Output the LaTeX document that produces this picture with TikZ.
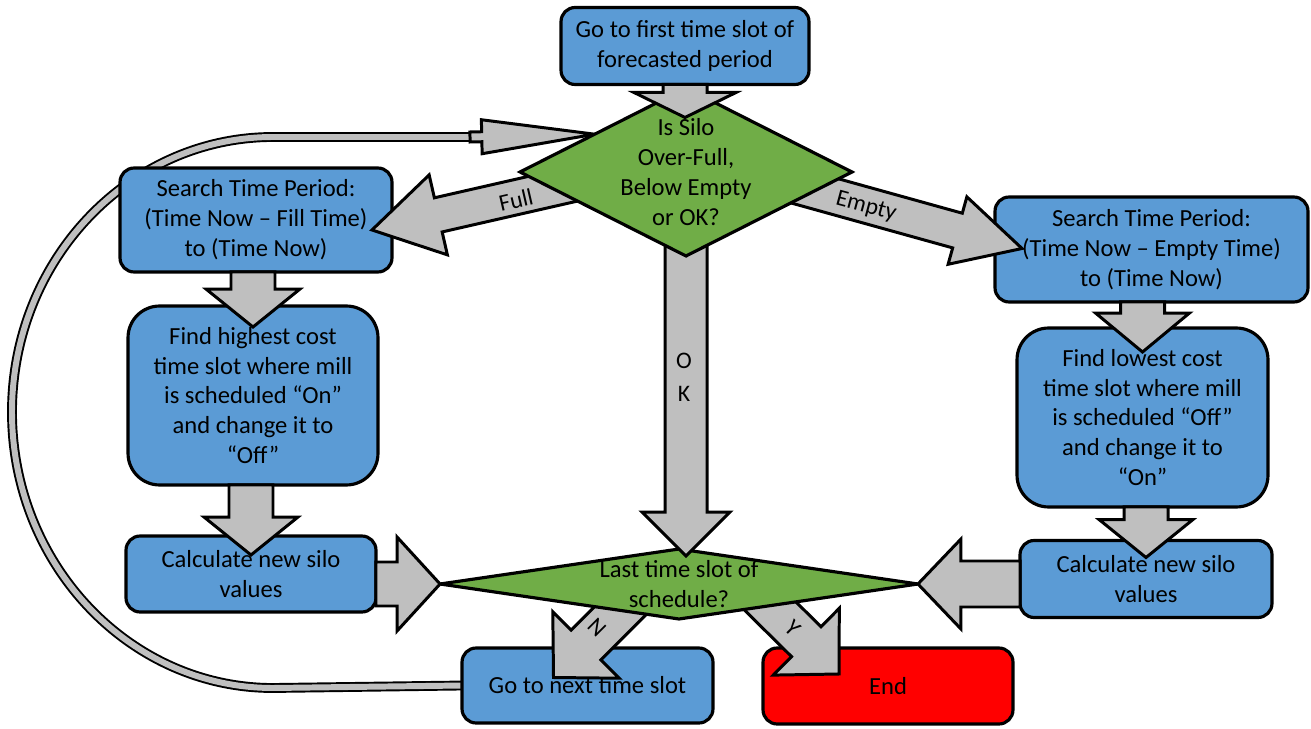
\documentclass[tikz,border=0pt]{standalone}
\usepackage{fontspec}
\setmainfont{Carlito}
\usetikzlibrary{shapes.geometric,calc}

\definecolor{boxblue}{HTML}{5B9BD5}
\definecolor{decgreen}{HTML}{70AD47}
\definecolor{arrgray}{HTML}{BFBFBF}

\pgfdeclarelayer{back}
\pgfdeclarelayer{front}
\pgfdeclarelayer{top}
\pgfsetlayers{back,main,front,top}

\tikzset{
  box/.style={draw, line width=1.8pt, fill=boxblue, rounded corners=8pt, align=center, inner sep=2pt, outer sep=0pt},
  bigbox/.style={box, rounded corners=18pt},
  decision/.style={draw, line width=1.8pt, fill=decgreen, diamond, inner sep=0pt, outer sep=0pt},
  fatarr/.style={draw, line width=1.7pt, fill=arrgray, line join=miter},
  loopline/.style={draw, line width=1.1pt, double=arrgray, double distance=3.4pt},
  arrlabel/.style={font=\fontsize{13.5}{15}\selectfont, inner sep=0pt}
}

% fat block arrow: start, tip, half shaft, half head, head length (in px)
\newcommand{\fatarrow}[5]{%
  \coordinate (fa-s) at #1;
  \coordinate (fa-t) at #2;
  \coordinate (fa-b) at ($(fa-t)!#5*0.02cm!(fa-s)$);
  \filldraw[fatarr] ($(fa-s)!#3*0.02cm!90:(fa-t)$)
    -- ($(fa-b)!#3*0.02cm!90:(fa-t)$) -- ($(fa-b)!#4*0.02cm!90:(fa-t)$)
    -- (fa-t)
    -- ($(fa-b)!#4*0.02cm!-90:(fa-t)$) -- ($(fa-b)!#3*0.02cm!-90:(fa-t)$)
    -- ($(fa-s)!#3*0.02cm!-90:(fa-t)$) -- cycle;}

\begin{document}
\begin{tikzpicture}[x=0.02cm, y=-0.02cm, font=\fontsize{14}{17}\selectfont]
    \useasboundingbox (0,0) rectangle (1311,729);

    % boxes
    \node[box, minimum width=4.96cm, minimum height=1.54cm] (first) at (685,46) {Go to first time slot of\\forecasted period};
    \node[box, minimum width=5.44cm, minimum height=2.08cm] (lsearch) at (256,220) {Search Time Period:\\(Time Now – Fill Time)\\to (Time Now)};
    \node[bigbox, minimum width=5.0cm, minimum height=3.58cm] (lfind) at (253,395.5) {Find highest cost\\time slot where mill\\is scheduled “On”\\and change it to\\“Off”};
    \node[box, minimum width=5.0cm, minimum height=1.52cm] (lcalc) at (251,574) {Calculate new silo\\values};
    \node[box, minimum width=6.26cm, minimum height=2.1cm] (rsearch) at (1151.5,249.5) {Search Time Period:\\(Time Now – Empty Time)\\to (Time Now)};
    \node[bigbox, minimum width=5.02cm, minimum height=3.58cm] (rfind) at (1142.5,417.5) {Find lowest cost\\time slot where mill\\is scheduled “Off”\\and change it to\\“On”};
    \node[box, minimum width=5.04cm, minimum height=1.54cm] (rcalc) at (1146,579) {Calculate new silo\\values};
    \node[box, minimum width=5.02cm, minimum height=1.5cm] (next) at (587.5,685.5) {Go to next time slot};
    \node[box, fill=red, minimum width=5.0cm, minimum height=1.52cm] (endbox) at (888,686) {End};

    % decisions
    \begin{pgfonlayer}{top}
        \node[decision, minimum width=6.64cm, minimum height=3.36cm,
              label={[align=center]center:{Is Silo\\Over-Full,\\Below Empty\\or OK?}}] (silo) at (686,172) {};
    \end{pgfonlayer}
    \begin{pgfonlayer}{front}
        \node[decision, minimum width=9.56cm, minimum height=1.4cm,
              label={[align=center]center:{Last time slot of\\schedule?}}] (last) at (679,584) {};
    \end{pgfonlayer}

    % block arrows
    \fatarrow{(lsearch.south -| lfind.north)}{($(lfind.north)+(0,21)$)}{22}{47}{38}
    \fatarrow{(lfind.south -| lcalc.north)}{($(lcalc.north)+(0,19)$)}{22}{47}{38}
    \fatarrow{(rsearch.south -| rfind.north)}{($(rfind.north)+(0,24)$)}{22}{47}{39}
    \fatarrow{(rfind.south -| rcalc.north)}{($(rcalc.north)+(0,17)$)}{22}{47}{38}
    \fatarrow{($(silo.center)+(-86,6)$)}{($(lsearch.east)+(-20,10)$)}{17.5}{41}{68}
    \fatarrow{($(silo.center)+(104,12)$)}{($(rsearch.west)+(27,-1)$)}{18}{35}{67}
    \fatarrow{($(last.south)+(-39,-28)$)}{($(next.center)+(-34,-8)$)}{21}{47}{46}
    \fatarrow{($(last.south)+(76,-28)$)}{($(endbox.center)+(-49,-12)$)}{21}{47}{46}

    \node[arrlabel, rotate=13] (lblfull) at (516,200) {Full};
    \node[arrlabel, rotate=-15] (lblempty) at (866,207) {Empty};
    \node[arrlabel, rotate=-45] (lbln) at (597,628) {N};
    \node[arrlabel, rotate=-45] (lbly) at (793,628) {Y};

    \begin{pgfonlayer}{front}
        \fatarrow{($(silo.south)+(0,-15)$)}{($(silo.south |- last.north)+(0,7)$)}{21}{44}{44}
        \fatarrow{(lcalc.east |- last.west)}{(last.west)}{22}{47}{43}
        \fatarrow{(rcalc.west |- last.east)}{(last.east)}{23}{45}{43}
        \node[arrlabel, align=center, font=\fontsize{13.5}{19}\selectfont] (lblok) at (684,377) {O\\K};
    \end{pgfonlayer}

    \begin{pgfonlayer}{top}
        \fatarrow{(first.south)}{($(first.south)+(0,33)$)}{22}{51}{25}
    \end{pgfonlayer}

    % loop back
    \begin{pgfonlayer}{back}
        \draw[loopline] (next.west) -- (273,688) .. controls (129,688) and (12,564) .. (12,412)
            .. controls (12,260) and (129,137) .. (273,137) -- (482,137);
        \fatarrow{(470,137)}{($(silo.west)!0.45!(silo.north)$)}{5}{17}{113}
    \end{pgfonlayer}
\end{tikzpicture}
\end{document}
